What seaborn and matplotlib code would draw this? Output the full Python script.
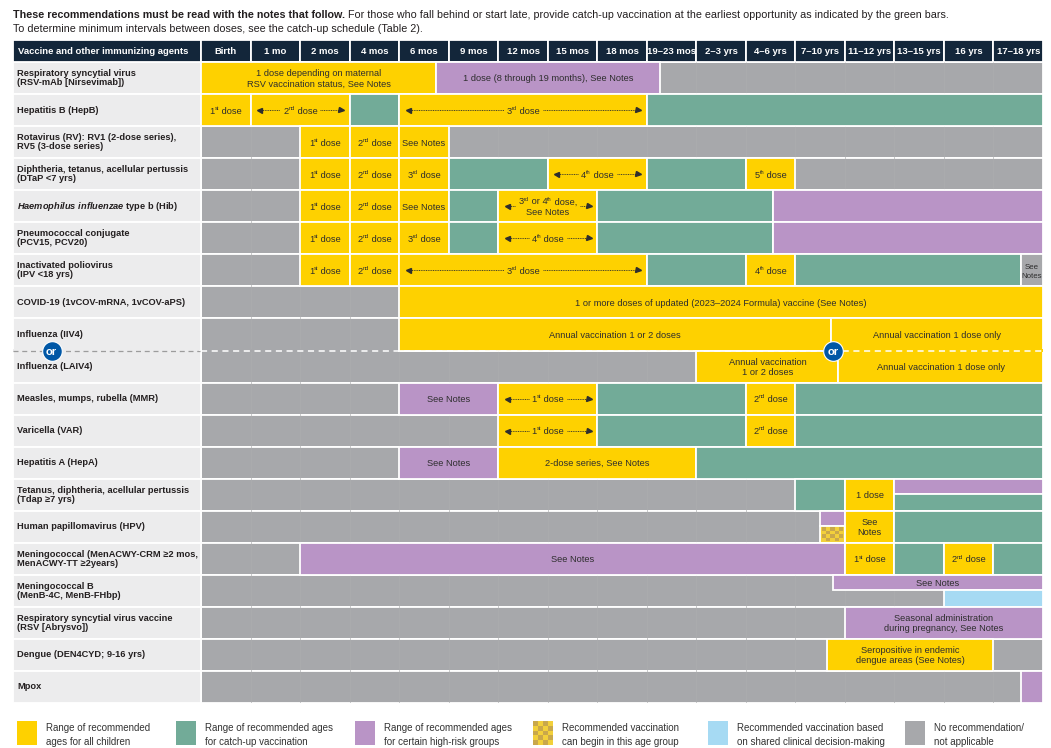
import re
import numpy as np
import pandas as pd
import matplotlib.pyplot as plt
from matplotlib.patches import Rectangle
from matplotlib.font_manager import FontProperties
from matplotlib.transforms import offset_copy
import seaborn as sns

# age columns and vaccine rows
AGES = ["Birth", "1 mo", "2 mos", "4 mos", "6 mos", "9 mos", "12 mos", "15 mos",
        "18 mos", "19–23 mos", "2–3 yrs", "4–6 yrs", "7–10 yrs", "11–12 yrs",
        "13–15 yrs", "16 yrs", "17–18 yrs"]

VACCINES = [
    "Respiratory syncytial virus\n(RSV-mAb [Nirsevimab])",
    "Hepatitis B (HepB)",
    "Rotavirus (RV): RV1 (2-dose series),\nRV5 (3-dose series)",
    "Diphtheria, tetanus, acellular pertussis\n(DTaP <7 yrs)",
    r"$\mathit{Haemophilus\ influenzae}$ type b (Hib)",
    "Pneumococcal conjugate\n(PCV15, PCV20)",
    "Inactivated poliovirus\n(IPV <18 yrs)",
    "COVID-19 (1vCOV-mRNA, 1vCOV-aPS)",
    "Influenza (IIV4)",
    "Influenza (LAIV4)",
    "Measles, mumps, rubella (MMR)",
    "Varicella (VAR)",
    "Hepatitis A (HepA)",
    "Tetanus, diphtheria, acellular pertussis\n(Tdap ≥7 yrs)",
    "Human papillomavirus (HPV)",
    "Meningococcal (MenACWY-CRM ≥2 mos,\nMenACWY-TT ≥2years)",
    "Meningococcal B\n(MenB-4C, MenB-FHbp)",
    "Respiratory syncytial virus vaccine\n(RSV [Abrysvo])",
    "Dengue (DEN4CYD; 9-16 yrs)",
    "Mpox",
]

# kinds of bars
Y, G, P, N, B, C = "all", "catchup", "risk", "none", "shared", "begin"

# {..} marks superscript text
D1 = "1{st} dose"
D2 = "2{nd} dose"
D3 = "3{rd} dose"
D4 = "4{th} dose"
D5 = "5{th} dose"

# (start, end, kind, text, arrows, part) - start/end measured in age columns
rsv_mab = [(0, 4.75, Y, "1 dose depending on maternal\nRSV vaccination status, See Notes", False, "full"),
           (4.75, 9.27, P, "1 dose (8 through 19 months), See Notes", False, "full")]
hepb = [(0, 1, Y, D1, False, "full"), (1, 3, Y, D2, True, "full"), (3, 4, G, "", False, "full"),
        (4, 9, Y, D3, True, "full"), (9, 17, G, "", False, "full")]
rotavirus = [(2, 3, Y, D1, False, "full"), (3, 4, Y, D2, False, "full"),
             (4, 5, Y, "See Notes", False, "full")]
dtap = [(2, 3, Y, D1, False, "full"), (3, 4, Y, D2, False, "full"), (4, 5, Y, D3, False, "full"),
        (5, 7, G, "", False, "full"), (7, 9, Y, D4, True, "full"), (9, 11, G, "", False, "full"),
        (11, 12, Y, D5, False, "full")]
hib = [(2, 3, Y, D1, False, "full"), (3, 4, Y, D2, False, "full"), (4, 5, Y, "See Notes", False, "full"),
       (5, 6, G, "", False, "full"), (6, 8, Y, "3{rd} or 4{th} dose,\nSee Notes", True, "full"),
       (8, 11.55, G, "", False, "full"), (11.55, 17, P, "", False, "full")]
pcv = [(2, 3, Y, D1, False, "full"), (3, 4, Y, D2, False, "full"), (4, 5, Y, D3, False, "full"),
       (5, 6, G, "", False, "full"), (6, 8, Y, D4, True, "full"),
       (8, 11.55, G, "", False, "full"), (11.55, 17, P, "", False, "full")]
ipv = [(2, 3, Y, D1, False, "full"), (3, 4, Y, D2, False, "full"), (4, 9, Y, D3, True, "full"),
       (9, 11, G, "", False, "full"), (11, 12, Y, D4, False, "full"),
       (12, 16.55, G, "", False, "full"), (16.55, 17, N, "See\nNotes", False, "full")]
covid = [(4, 17, Y, "1 or more doses of updated (2023–2024 Formula) vaccine (See Notes)", False, "full")]
iiv4 = [(4, 12.72, Y, "Annual vaccination 1 or 2 doses", False, "full"),
        (12.72, 17, Y, "Annual vaccination 1 dose only", False, "full")]
laiv4 = [(10, 12.87, Y, "Annual vaccination\n1 or 2 doses", False, "full"),
         (12.87, 17, Y, "Annual vaccination 1 dose only", False, "full")]
mmr = [(4, 6, P, "See Notes", False, "full"), (6, 8, Y, D1, True, "full"), (8, 11, G, "", False, "full"),
       (11, 12, Y, D2, False, "full"), (12, 17, G, "", False, "full")]
var = [(6, 8, Y, D1, True, "full"), (8, 11, G, "", False, "full"),
       (11, 12, Y, D2, False, "full"), (12, 17, G, "", False, "full")]
hepa = [(4, 6, P, "See Notes", False, "full"), (6, 10, Y, "2-dose series, See Notes", False, "full"),
        (10, 17, G, "", False, "full")]
tdap = [(12, 13, G, "", False, "full"), (13, 14, Y, "1 dose", False, "full"),
        (14, 17, P, "", False, "top"), (14, 17, G, "", False, "bottom")]
hpv = [(12.5, 13, P, "", False, "top"), (12.5, 13, C, "", False, "bottom"),
       (13, 14, Y, "See\nNotes", False, "full"), (14, 17, G, "", False, "full")]
menacwy = [(2, 13, P, "See Notes", False, "full"), (13, 14, Y, D1, False, "full"),
           (14, 15, G, "", False, "full"), (15, 16, Y, D2, False, "full"), (16, 17, G, "", False, "full")]
menb = [(12.75, 17, P, "See Notes", False, "top"), (15, 17, B, "", False, "bottom")]
rsv_vaccine = [(13, 17, P, "Seasonal administration\nduring pregnancy, See Notes", False, "full")]
dengue = [(12.63, 16, Y, "Seropositive in endemic\ndengue areas (See Notes)", False, "full")]
mpox = [(16.55, 17, P, "", False, "full")]

ROWS = [rsv_mab, hepb, rotavirus, dtap, hib, pcv, ipv, covid, iiv4, laiv4, mmr, var,
        hepa, tdap, hpv, menacwy, menb, rsv_vaccine, dengue, mpox]

LEGEND_KINDS = [Y, G, P, C, B, N]
LEGEND_TEXT = ["Range of recommended\nages for all children",
               "Range of recommended ages\nfor catch-up vaccination",
               "Range of recommended ages\nfor certain high-risk groups",
               "Recommended vaccination\ncan begin in this age group",
               "Recommended vaccination based\non shared clinical decision-making",
               "No recommendation/\nnot applicable"]

TITLE_BOLD = "These recommendations must be read with the notes that follow."
TITLE_REST = (" For those who fall behind or start late, provide catch-up vaccination "
              "at the earliest opportunity as indicated by the green bars.")
TITLE_LINE2 = "To determine minimum intervals between doses, see the catch-up schedule (Table 2)."

COLORS = {Y: "#FED100", G: "#72AB98", P: "#B994C6", N: "#A7A8AB", B: "#A6DAF3", C: "#F2D03B"}
GOLD = "#C9A84B"
NAVY = "#13263A"
LABEL_BG = "#ECECED"
INK = "#2E2E2E"
OR_BLUE = "#0057A6"

sns.set_theme(style="white")
plt.rcParams["font.family"] = ["Liberation Sans", "DejaVu Sans"]
plt.rcParams["mathtext.fontset"] = "custom"
plt.rcParams["mathtext.rm"] = "Liberation Sans"
plt.rcParams["mathtext.it"] = "Liberation Sans:italic:bold"
plt.rcParams["mathtext.bf"] = "Liberation Sans:bold"

W, H = 1051, 748
fig = plt.figure(figsize=(W / 100, H / 100), dpi=100)
fig.patch.set_facecolor("white")
renderer = fig.canvas.get_renderer()

LAB = 3.8      # width of the label column, in age columns
HEAD = 0.69    # header height, in rows
SPLIT = 0.47   # share of the top half in split rows
EDGE = 1.3
CELL_FS = 6.7

ax = fig.add_axes([13 / W, 1 - 703 / H, (1043 - 13) / W, (703 - 40) / H])


def rich_text(axis, x, y, text, fs, color, z=4):
    """Centre text at (x, y); {..} pieces are set as superscripts. Returns half width in points."""
    lines = text.split("\n")
    line_h = fs * 1.12
    half = 0
    for li, line in enumerate(lines):
        runs = [(part, i % 2 == 1) for i, part in enumerate(re.split(r"\{(\w+)\}", line)) if part]
        sizes = [fs * 0.62 if sup else fs for _, sup in runs]
        widths = [renderer.get_text_width_height_descent(s, FontProperties(family="Liberation Sans", size=sz),
                                                         ismath=False)[0] * 72 / 100
                  for (s, _), sz in zip(runs, sizes)]
        total = sum(widths)
        half = max(half, total / 2)
        dy = ((len(lines) - 1) / 2 - li) * line_h - fs * 0.36
        dx = -total / 2
        for (s, sup), sz, w in zip(runs, sizes, widths):
            tr = offset_copy(axis.transData, fig=fig, x=dx, y=dy + (fs * 0.38 if sup else 0), units="points")
            axis.text(x, y, s, transform=tr, ha="left", va="baseline", fontsize=sz, color=color, zorder=z)
            dx += w
    return half


# grey "no recommendation" background for every row
base = pd.DataFrame({"vaccine": VACCINES, "span": len(AGES)})
sns.barplot(data=base, x="span", y="vaccine", orient="h", color=COLORS[N], saturation=1,
            width=1.0, edgecolor="white", linewidth=EDGE, errorbar=None, ax=ax)
ax.set_xlim(-LAB, len(AGES))
ax.set_ylim(len(VACCINES) - 0.5, -0.5 - HEAD)

rows = np.arange(len(VACCINES))
ax.vlines(np.arange(1, len(AGES)), -0.5, len(VACCINES) - 0.5, color="#ACADAF", lw=0.45, zorder=1.2)

# label column
ax.barh(rows, LAB, left=-LAB, height=1.0, color=LABEL_BG, edgecolor="white", linewidth=EDGE)
for r, name in enumerate(VACCINES):
    ax.text(-LAB + 0.09, r, name, ha="left", va="center", fontsize=6.65, fontweight="bold",
            color="#231F20", linespacing=1.0, zorder=4)

# header
hy = -0.5 - HEAD / 2
ax.barh(hy, LAB, left=-LAB, height=HEAD, color=NAVY, edgecolor="white", linewidth=EDGE)
ax.barh([hy] * len(AGES), 1, left=np.arange(len(AGES)), height=HEAD, color=NAVY,
        edgecolor="white", linewidth=EDGE)
ax.text(-LAB + 0.1, hy, "Vaccine and other immunizing agents", ha="left", va="center",
        fontsize=6.8, fontweight="bold", color="white")
for i, age in enumerate(AGES):
    ax.text(i + 0.5, hy, age, ha="center", va="center", fontsize=6.8, fontweight="bold", color="white")


def checker(axis, x0, x1, y0, y1, nx, ny, z):
    xs = np.linspace(x0, x1, nx + 1)
    ys = np.linspace(y0, y1, ny + 1)
    for i in range(nx):
        for j in range(ny):
            if (i + j) % 2 == 0:
                axis.add_patch(Rectangle((xs[i], ys[j]), xs[i + 1] - xs[i], ys[j + 1] - ys[j],
                                         color=GOLD, lw=0, zorder=z))


px_per_col = ax.transData.transform((1, 0))[0] - ax.transData.transform((0, 0))[0]

for r, segs in enumerate(ROWS):
    for s, e, kind, text, arrows, part in segs:
        if part == "top":
            yc, h = r - 0.5 + SPLIT / 2, SPLIT
        elif part == "bottom":
            yc, h = r - 0.5 + SPLIT + (1 - SPLIT) / 2, 1 - SPLIT
        else:
            yc, h = r, 1.0
        ax.barh(yc, e - s, left=s, height=h, color=COLORS[kind], edgecolor="white",
                linewidth=EDGE, zorder=2)
        if kind == C:
            checker(ax, s + 0.03, e - 0.03, yc - h / 2 + 0.05, yc + h / 2 - 0.05, 5, 4, 2.5)
        if not text:
            continue
        fs = 5.7 if kind == N else CELL_FS
        half = rich_text(ax, (s + e) / 2, yc, text, fs, INK)
        if arrows:
            # dashed arrows either side of the spanning dose label
            hw = half * 100 / 72 / px_per_col
            mid = (s + e) / 2
            pad, gap = 0.17, 0.06
            ax.plot([s + pad, mid - hw - gap], [yc, yc], color=INK, lw=0.6, ls=(0, (1.2, 0.9)), zorder=4)
            ax.plot([mid + hw + gap, e - pad], [yc, yc], color=INK, lw=0.6, ls=(0, (1.2, 0.9)), zorder=4)
            ax.plot([s + pad], [yc], marker="<", ms=3.6, color=INK, zorder=5)
            ax.plot([e - pad], [yc], marker=">", ms=3.6, color=INK, zorder=5)

# influenza "or" separator
ax.barh(8.5, LAB - 0.04, left=-LAB, height=0.1, color=LABEL_BG, lw=0, zorder=1.5)
ax.barh(8.5, 3.96, left=0.02, height=0.1, color=COLORS[N], lw=0, zorder=1.5)
ax.barh(8.5, 17 - 12.92, left=12.92, height=0.1, color=COLORS[Y], lw=0, zorder=2.5)
ax.plot([-LAB, -0.03], [8.5, 8.5], color="#9C9C9C", lw=0.9, ls=(0, (4, 3)), zorder=3)
ax.plot([0, 17], [8.5, 8.5], color="white", lw=1.1, ls=(0, (4, 3)), zorder=3)
ax.scatter([-3.02, 12.76], [8.5, 8.5], s=200, color=OR_BLUE, edgecolor="white", linewidth=0.8, zorder=6)
for xo in [-3.02, 12.76]:
    ax.text(xo, 8.5, "or", ha="center", va="center_baseline", fontsize=8, fontweight="bold",
            color="white", zorder=7)

ax.axis("off")

# overlay in pixel units for title and legend
lax = fig.add_axes([0, 0, 1, 1])
lax.set_xlim(0, W)
lax.set_ylim(H, 0)
lax.axis("off")

tb = lax.text(13, 15, TITLE_BOLD, ha="left", va="center", fontsize=7.75, fontweight="bold", color="#231F20")
lax.text(13, 29, TITLE_LINE2, ha="left", va="center", fontsize=7.75, color="#231F20")

for k, (kind, label) in enumerate(zip(LEGEND_KINDS, LEGEND_TEXT)):
    x = [17, 176, 355, 533, 708, 905][k]
    lax.add_patch(Rectangle((x, 721), 20, 24, color=COLORS[kind], lw=0))
    if kind == C:
        checker(lax, x, x + 20, 721, 745, 4, 5, 3)
    lax.text(x + 29, 735, label, ha="left", va="center", fontsize=7.0, color="#333333", linespacing=1.4)

bb = tb.get_window_extent(renderer)
lax.text(bb.x1, 15, TITLE_REST, ha="left", va="center", fontsize=7.75, color="#231F20")

fig.savefig("out.png", dpi=100)
